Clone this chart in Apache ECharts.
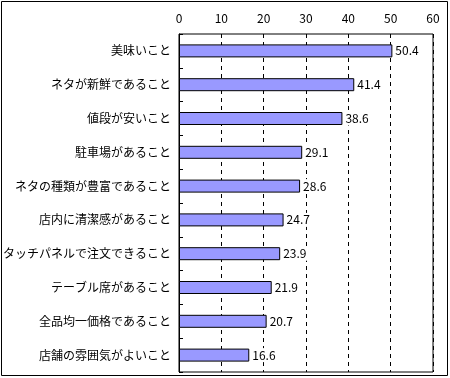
<!DOCTYPE html>
<html>
<head>
<meta charset="utf-8">
<script src="https://cdn.jsdelivr.net/npm/echarts@6/dist/echarts.min.js"></script>
<style>
html, body { margin: 0; padding: 0; background: #fff; }
#main { width: 450px; height: 378px; }
</style>
</head>
<body>
<div id="main"></div>
<script>
var categories = ['美味いこと', 'ネタが新鮮であること', '値段が安いこと', '駐車場があること', 'ネタの種類が豊富であること',
	'店内に清潔感があること', 'タッチパネルで注文できること', 'テーブル席があること', '全品均一価格であること', '店舗の雰囲気がよいこと'];
var values = [50.4, 41.4, 38.6, 29.1, 28.6, 24.7, 23.9, 21.9, 20.7, 16.6];
var xTicks = [0, 10, 20, 30, 40, 50, 60];

var font = '"Noto Sans CJK JP", "DejaVu Sans", sans-serif';
var chart = echarts.init(document.getElementById('main'));

var option = {
	animation: false,
	backgroundColor: '#fff',
	textStyle: { fontFamily: font, color: '#000' },
	graphic: [{
		type: 'rect',
		shape: { x: 1.5, y: 1.5, width: 446, height: 374 },
		style: { fill: 'none', stroke: '#000', lineWidth: 1 },
		silent: true
	}],
	grid: {
		left: 175,
		top: 34,
		width: 258,
		height: 338,
		show: true,
		borderColor: '#000',
		borderWidth: 1,
		backgroundColor: 'transparent'
	},
	xAxis: {
		type: 'value',
		position: 'top',
		min: xTicks[0],
		max: xTicks[xTicks.length - 1],
		interval: 10,
		axisLine: { show: false },
		axisTick: { show: false },
		axisLabel: { color: '#000', fontSize: 12, fontFamily: font, margin: 10 },
		splitLine: { show: true, lineStyle: { color: '#000', type: [4, 4], width: 1 } }
	},
	yAxis: {
		type: 'category',
		inverse: true,
		data: categories,
		axisLine: { show: true, lineStyle: { color: '#000', width: 1 } },
		axisTick: { show: true, inside: true, length: 4, lineStyle: { color: '#000' } },
		axisLabel: { color: '#000', fontSize: 12, fontFamily: font, margin: 8 }
	},
	series: [{
		type: 'bar',
		data: values,
		barWidth: 13,
		itemStyle: { color: '#9999FF', borderColor: '#000', borderWidth: 1 },
		label: {
			show: true,
			position: 'right',
			distance: 2,
			color: '#000',
			fontSize: 12,
			fontFamily: font,
			backgroundColor: '#fff',
			padding: [1, 1]
		}
	}]
};
chart.setOption(option);
</script>
</body>
</html>
